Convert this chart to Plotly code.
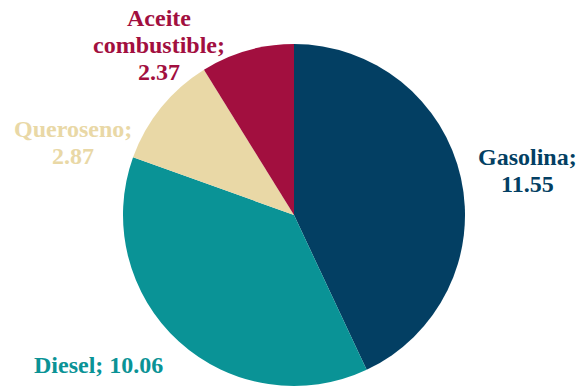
import plotly.graph_objects as go

# Fuel consumption shares
categories = ["Gasolina", "Diesel", "Queroseno", "Aceite combustible"]
values = [11.55, 10.06, 2.87, 2.37]
colors = ["#033F63", "#0A9396", "#E9D8A6", "#A20F3F"]

# Label text lines and anchor of the first line (pixels)
label_lines = [["Gasolina;", "{v}"], ["Diesel; {v}"], ["Queroseno;", "{v}"], ["Aceite", "combustible;", "{v}"]]
label_pos = [(527, 157), (98, 365), (73, 129), (159, 18)]
LINE_GAP = 27

W, H = 578, 388

fig = go.Figure(
    go.Pie(
        labels=categories,
        values=values,
        marker=dict(colors=colors, line=dict(width=0)),
        sort=False,
        direction="clockwise",
        rotation=0,
        textinfo="none",
        hoverinfo="label+value",
        domain=dict(x=[123 / W, 465 / W], y=[(H - 386) / H, (H - 44) / H]),
        showlegend=False,
    )
)

for cat, val, col, lines, (px, py) in zip(categories, values, colors, label_lines, label_pos):
    for i, line in enumerate(lines):
        fig.add_annotation(
            x=px / W, y=1 - (py + i * LINE_GAP) / H, xref="paper", yref="paper",
            text=f"<b>{line.format(v=f'{val:.2f}')}</b>", showarrow=False,
            xanchor="center", yanchor="middle", align="center",
            font=dict(family="Liberation Serif", size=24, color=col),
        )

fig.update_layout(
    width=W, height=H,
    margin=dict(l=0, r=0, t=0, b=0),
    paper_bgcolor="white", plot_bgcolor="white",
)

fig.write_html("out.html")
